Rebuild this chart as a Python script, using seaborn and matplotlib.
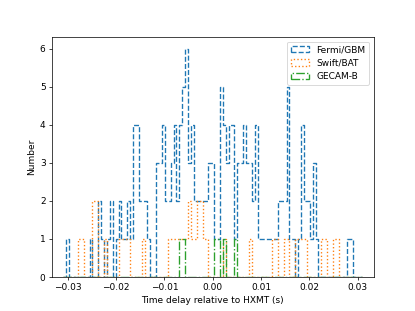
import numpy as np
import pandas as pd
import matplotlib
matplotlib.use("Agg")
import matplotlib.pyplot as plt
from matplotlib.patches import Rectangle
import seaborn as sns

# histogram bins (time delay relative to HXMT, s)
first_edge = -0.0303
bin_width = 0.0006
n_bins = 101

# counts per bin
fermi_counts = [1, 0, 0, 0, 0, 0, 0, 0, 1, 0,
                0, 2, 1, 0, 1, 2, 0, 1, 2, 1,
                1, 2, 1, 4, 4, 2, 2, 2, 1, 0,
                0, 3, 3, 4, 2, 2, 3, 4, 2, 4,
                5, 6, 3, 4, 2, 2, 2, 2, 2, 3,
                3, 1, 1, 5, 4, 3, 4, 4, 1, 3,
                3, 4, 3, 3, 2, 4, 1, 1, 1, 1,
                1, 1, 1, 2, 2, 2, 5, 1, 1, 0,
                1, 4, 2, 2, 1, 3, 1, 0, 0, 0,
                0, 0, 0, 0, 0, 0, 0, 1, 1, 0,
                0]
swift_counts = [0, 0, 0, 0, 1, 1, 0, 0, 0, 2,
                2, 0, 0, 1, 0, 0, 0, 0, 1, 1,
                1, 1, 0, 0, 0, 0, 1, 0, 0, 0,
                0, 0, 0, 0, 0, 1, 1, 1, 1, 1,
                1, 1, 2, 1, 1, 2, 2, 1, 1, 0,
                0, 0, 0, 0, 1, 0, 0, 0, 0, 0,
                0, 0, 0, 1, 0, 0, 0, 0, 0, 0,
                0, 1, 1, 0, 0, 1, 1, 0, 0, 1,
                1, 1, 1, 0, 0, 0, 0, 0, 1, 1,
                0, 0, 1, 1, 0, 0, 0, 0, 0, 0,
                0]
gecam_counts = [0] * 39 + [1, 1] + [0] * 10 + [1, 1, 0, 1, 0, 0, 0, 1] + [0] * 42

labels = ["Fermi/GBM", "Swift/BAT", "GECAM-B"]
colors = ["tab:blue", "tab:orange", "tab:green"]
styles = ["--", ":", "-."]

# pad one empty bin on each side so the step outline drops to zero
edges = first_edge + bin_width * np.arange(-1, n_bins + 2)
centers = 0.5 * (edges[:-1] + edges[1:])

fig, ax = plt.subplots(figsize=(6.4, 4.8), dpi=415 / 6.4)

handles = []
for counts, lab, col, ls in zip([fermi_counts, swift_counts, gecam_counts], labels, colors, styles):
    df = pd.DataFrame({"delay": centers, "n": [0] + list(counts) + [0]})
    sns.histplot(data=df, x="delay", weights="n", bins=list(edges), element="step", fill=False,
                 color=col, linestyle=ls, linewidth=1.5, ax=ax)
    handles.append(Rectangle((0, 0), 1, 1, fill=False, edgecolor=col, linestyle=ls, linewidth=1.5))

ax.set_xlim(-0.0333, 0.0333)
ax.set_ylim(0, 6.3)
ax.set_xticks([-0.03, -0.02, -0.01, 0.00, 0.01, 0.02, 0.03])
ax.set_xlabel("Time delay relative to HXMT (s)")
ax.set_ylabel("Number")
ax.legend(handles, labels, loc="upper right")

fig.savefig("out.png", dpi=415 / 6.4)
